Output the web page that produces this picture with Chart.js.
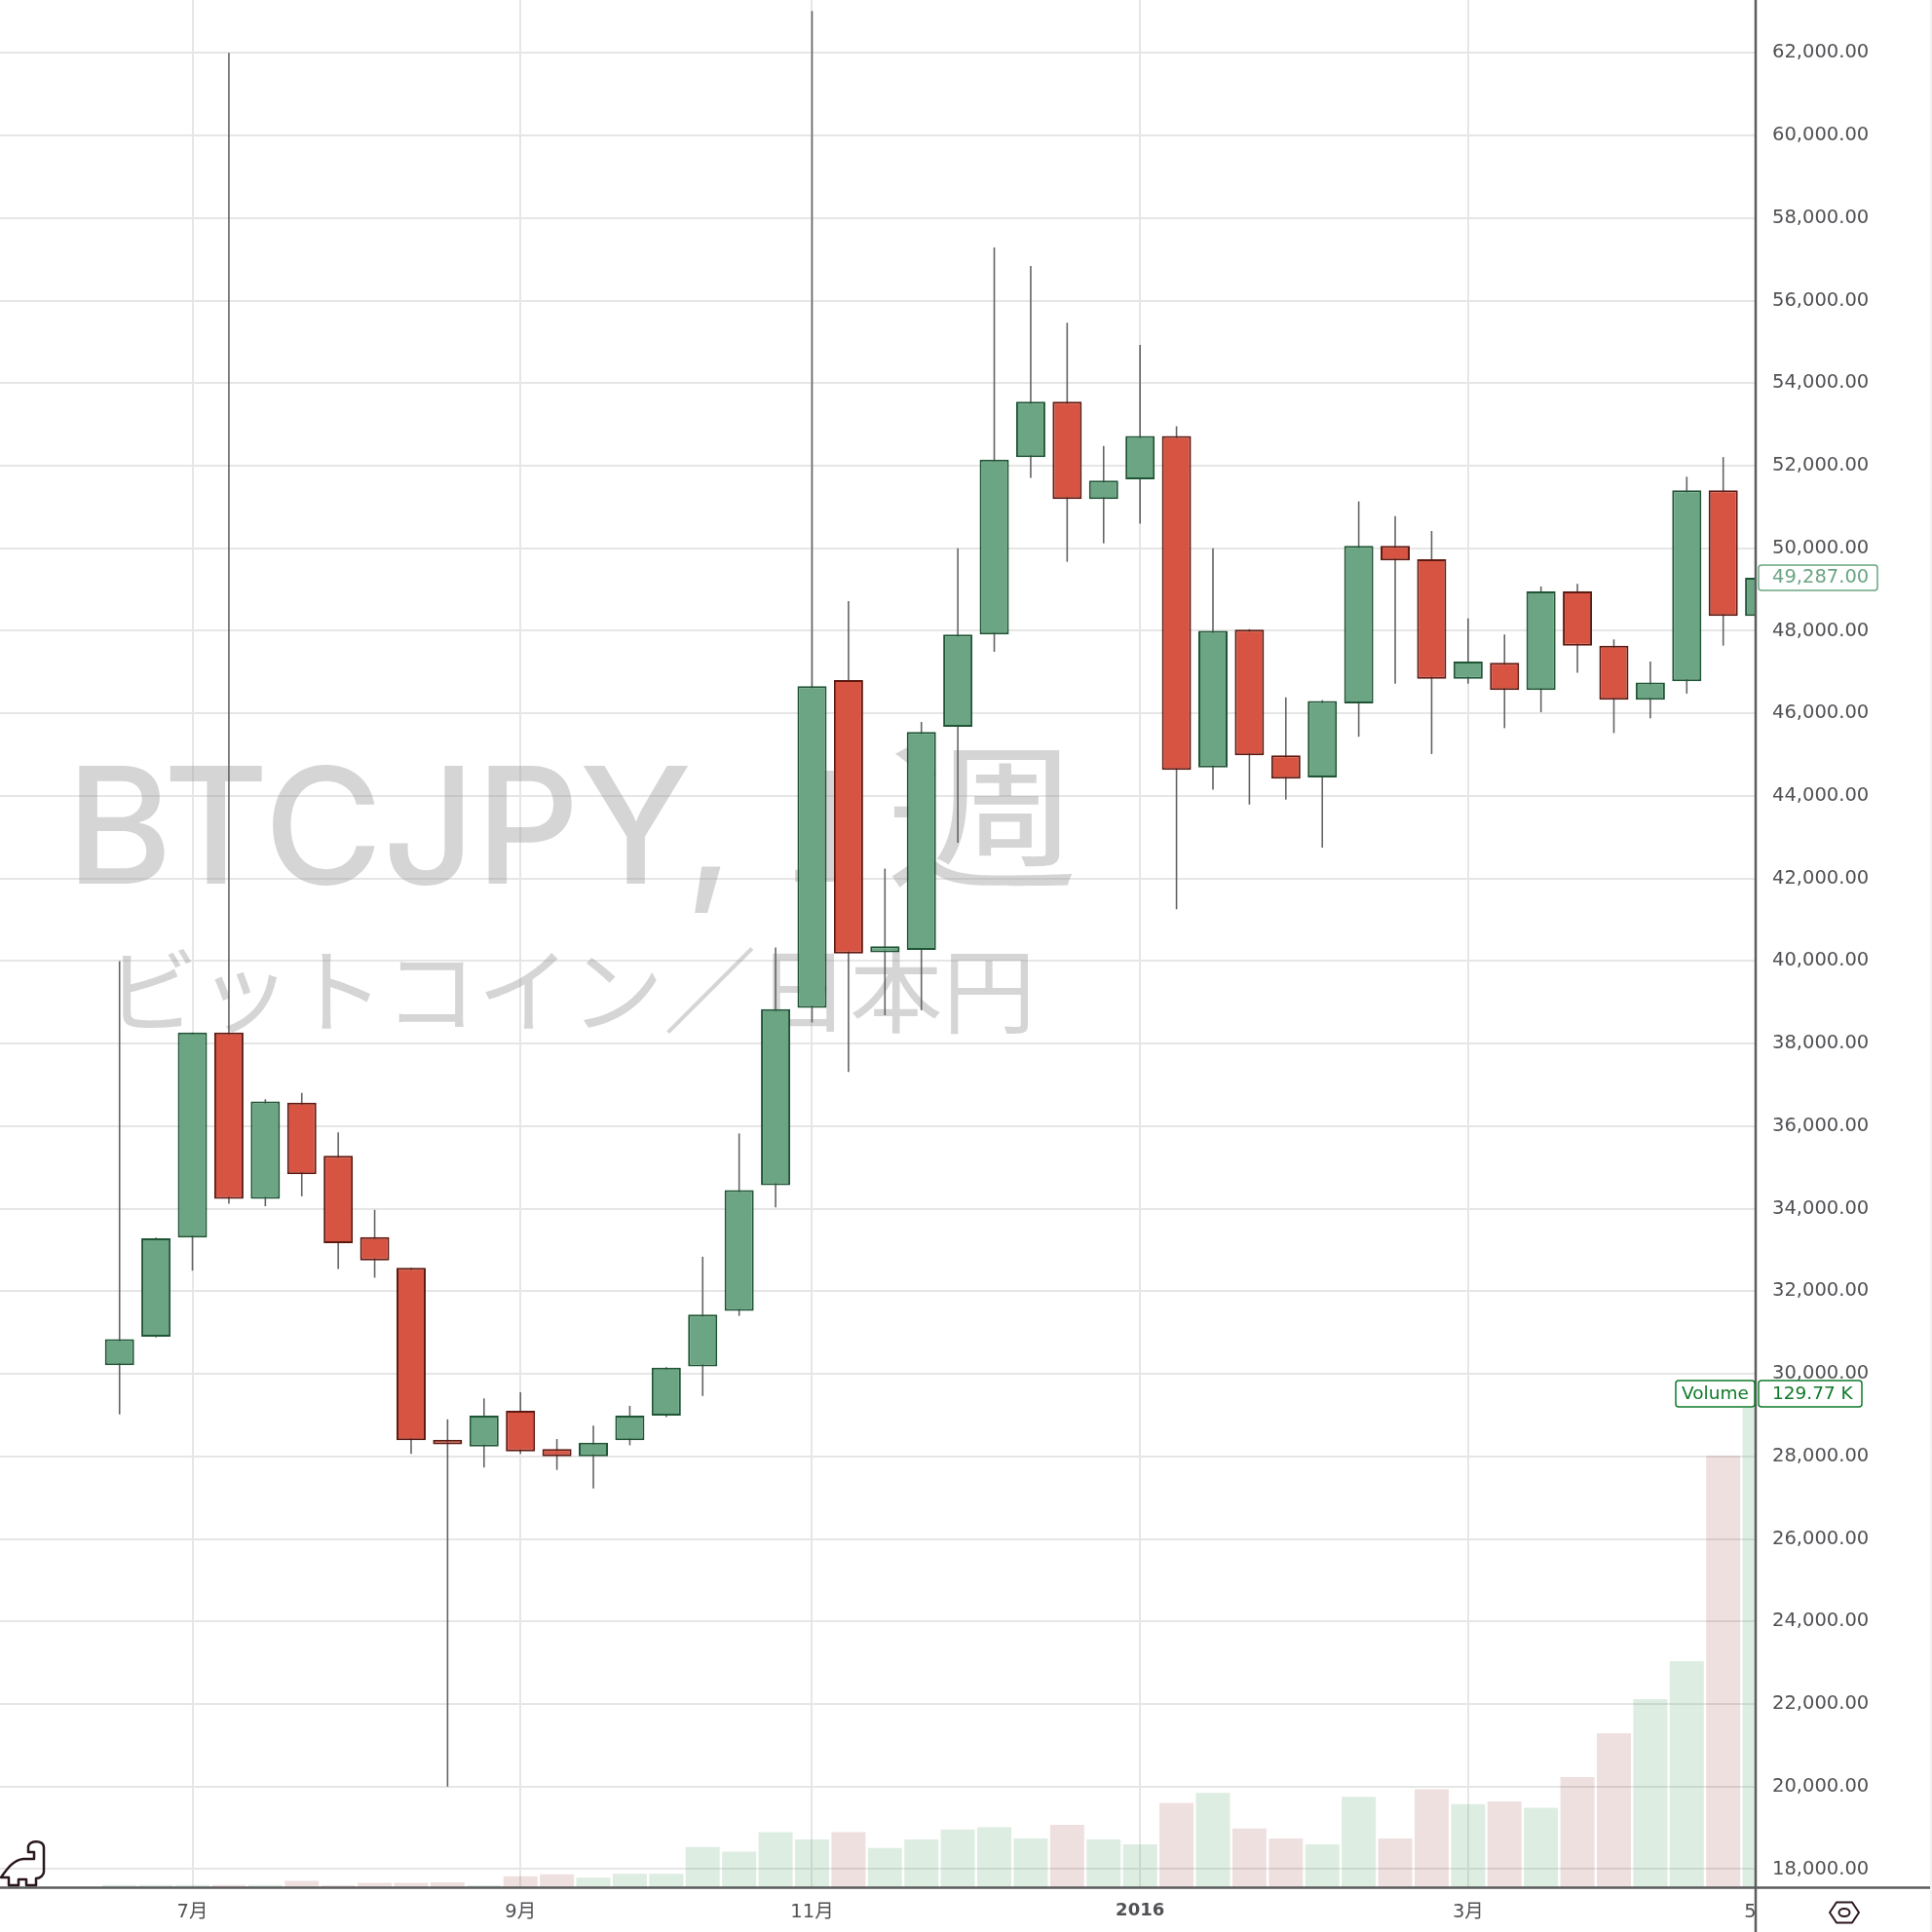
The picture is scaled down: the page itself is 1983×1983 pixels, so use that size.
<!DOCTYPE html>
<html><head><meta charset="utf-8">
<style>html,body{margin:0;padding:0;background:#fff}canvas{display:block}</style>
<script src="https://cdn.jsdelivr.net/npm/chart.js@4"></script>
</head><body><canvas id="c" width="1983" height="1983"></canvas>
<script>
const weekIndex=[0,1,2,3,4,5,6,7,8,9,10,11,12,13,14,15,16,17,18,19,20,21,22,23,24,25,26,27,28,29,30,31,32,33,34,35,36,37,38,39,40,41,42,43,44,45];
const opens=[30210,30900,33300,38270,34240,36570,35284,33310,32568,28400,28240,29105,28180,28000,28389,28986,30180,31523,34568,38866,46806,40210,40270,45672,47911,52209,53552,51194,51672,52717,44687,48030,44985,44448,46239,50060,49732,46836,47224,46568,48956,47642,46329,46777,51403,48359];
const closes=[30840,33284,38270,34240,36600,34836,33165,32747,28389,28290,28986,28120,28000,28329,28986,30150,31434,34448,38836,46657,40180,40359,45553,47911,52150,53552,51194,51642,52717,44627,48000,44985,44418,46299,50060,49702,46836,47254,46568,48956,47642,46329,46747,51403,48359,49287];
const highs=[40000,33300,38270,62000,36650,36807,35851,33971,32570,28896,29404,29553,28419,28747,29225,30160,32837,35822,40329,63015,48717,42239,45791,50000,57284,56836,55463,52478,54925,52955,50000,48040,46388,46320,51135,50776,50418,48299,47911,49075,49135,47791,47254,51732,52209,49300];
const lows=[29016,30880,32500,34120,34060,34299,32538,32329,28061,20000,27732,28061,27672,27225,28269,28950,29463,31404,34031,38508,37314,38687,38807,42866,47493,51702,49672,50120,50597,41254,44150,43791,43911,42747,45433,46717,45015,46717,45642,46030,46985,45523,45881,46478,47642,48300];
const volumesK=[0.6,0.6,0.6,0.6,0.6,1.7,0.5,1.2,1.2,1.3,0.5,3,3.5,2.6,3.6,3.6,10.9,9.6,14.9,12.9,14.9,10.6,12.9,15.6,16.2,13.2,16.9,12.9,11.6,22.8,25.5,15.9,13.2,11.6,24.5,13.2,26.5,22.5,23.2,21.5,29.8,41.7,50.9,61.2,116.9,129.77];
const xTickPositions=[2,11,19,28,37,45];
const xTickLabels=['7月','9月','11月','2016','3月','5月'];
const priceTicks=[18000,20000,22000,24000,26000,28000,30000,32000,34000,36000,38000,40000,42000,44000,46000,48000,50000,52000,54000,56000,58000,60000,62000];
const lastPriceLabel='49,287.00';
const volumeTagName='Volume';
const volumeTagValue='129.77 K';
const watermarkSymbol='BTCJPY,';
const watermarkNumber='1';
const watermarkUnit='週';
const watermarkLine2='ビットコイン／日本円';

const GREEN='#6ba583',GREEN_D='#1f5535',RED='#d75442',RED_D='#5e1a12';
const up=i=>closes[i]>=opens[i];
const FF='"DejaVu Sans","Noto Sans CJK JP",sans-serif';

function roundRect(ctx,x,y,w,h,r){ctx.beginPath();ctx.roundRect(x,y,w,h,r);}
const overlay={
  id:'overlay',
  beforeDatasetsDraw(chart){
    const ctx=chart.ctx,a=chart.chartArea;
    ctx.save();
    ctx.fillStyle='#fff';
    ctx.fillRect(a.right,a.bottom,1983-a.right,46);
    ctx.fillStyle='rgba(150,150,150,0.4)';
    ctx.textBaseline='alphabetic';ctx.textAlign='left';
    ctx.font='500 166px Inter,"DejaVu Sans",sans-serif';
    ctx.fillText(watermarkSymbol,68,907);
    ctx.font='160px "Noto Sans CJK JP",sans-serif';
    ctx.fillText(watermarkNumber,802,905);
    ctx.save();
    ctx.translate(909,899);ctx.scale(1.24,1);
    ctx.fillText(watermarkUnit,0,0);
    ctx.restore();
    ctx.font='95.5px "Noto Sans CJK JP",sans-serif';
    ctx.fillText(watermarkLine2,108,1053);
    ctx.restore();
  },
  afterDraw(chart){
    const ctx=chart.ctx,a=chart.chartArea;
    ctx.save();
    ctx.strokeStyle='#5c5c5e';ctx.lineWidth=2.5;
    ctx.beginPath();ctx.moveTo(a.right,0);ctx.lineTo(a.right,1983);
    ctx.moveTo(0,a.bottom+0.5);ctx.lineTo(1981,a.bottom+0.5);ctx.stroke();
    ctx.strokeStyle='#e4e4e4';ctx.lineWidth=1;
    ctx.beginPath();ctx.moveTo(1982,0);ctx.lineTo(1982,1983);ctx.stroke();
    const py=chart.scales.y.getPixelForValue(closes[closes.length-1]);
    ctx.fillStyle='#fff';ctx.strokeStyle=GREEN;ctx.lineWidth=1.5;
    roundRect(ctx,a.right+3,py-13,122,26,3);ctx.fill();ctx.stroke();
    ctx.fillStyle=GREEN;ctx.font='19.5px '+FF;ctx.textBaseline='middle';ctx.textAlign='left';
    ctx.fillText(lastPriceLabel,a.right+17,py);
    const vy=chart.scales.yVol.getPixelForValue(129.77)-15;
    const G='#0f7a2a';
    ctx.strokeStyle=G;ctx.fillStyle='#fff';
    roundRect(ctx,1720,vy-13,81,27,3);ctx.fill();ctx.stroke();
    roundRect(ctx,a.right+3,vy-13,106,27,3);ctx.fill();ctx.stroke();
    ctx.fillStyle=G;ctx.font='18.5px '+FF;ctx.textAlign='left';
    ctx.fillText(volumeTagName,1726,vy+1);
    ctx.fillText(volumeTagValue,a.right+17,vy+1);
    ctx.strokeStyle='#2a171c';ctx.lineWidth=2.5;ctx.lineJoin='round';
    ctx.beginPath();
    ctx.moveTo(1,1927);ctx.bezierCurveTo(8,1917,14,1909,24,1908);
    ctx.lineTo(35,1908);ctx.lineTo(35,1901);ctx.lineTo(29,1901);ctx.lineTo(29,1895);
    ctx.bezierCurveTo(31,1889,44,1888,45,1896);
    ctx.lineTo(45,1921);ctx.bezierCurveTo(45,1925,41,1928,37,1928);
    ctx.lineTo(37,1935);ctx.lineTo(27,1935);ctx.lineTo(27,1929);ctx.lineTo(19,1929);ctx.lineTo(19,1935);ctx.lineTo(9,1935);ctx.lineTo(9,1927);ctx.closePath();
    ctx.stroke();
    ctx.strokeStyle='#2a171c';ctx.lineWidth=2;
    ctx.beginPath();ctx.moveTo(1878,1963);ctx.lineTo(1885,1952.5);ctx.lineTo(1901,1952.5);ctx.lineTo(1908,1963);ctx.lineTo(1901,1973.5);ctx.lineTo(1885,1973.5);ctx.closePath();ctx.stroke();
    ctx.beginPath();ctx.ellipse(1893,1963,5.5,4,0,0,Math.PI*2);ctx.stroke();
    ctx.restore();
  }
};

new Chart(document.getElementById('c').getContext('2d'),{
  type:'bar',
  plugins:[overlay],
  data:{datasets:[
    {label:'body',order:1,data:weekIndex.map(i=>({x:i,y:[opens[i],closes[i]]})),barThickness:30,grouped:false,
     backgroundColor:weekIndex.map(i=>up(i)?GREEN:RED),borderColor:weekIndex.map(i=>up(i)?GREEN_D:RED_D),borderWidth:2,borderSkipped:false,inflateAmount:0},
    {label:'wick',order:2,data:weekIndex.map(i=>({x:i,y:[lows[i],highs[i]]})),barThickness:1.6,grouped:false,
     backgroundColor:'#646466',borderWidth:0,inflateAmount:0},
    {label:'volume',order:3,yAxisID:'yVol',data:weekIndex.map(i=>({x:i,y:volumesK[i]})),barThickness:35,grouped:false,
     backgroundColor:weekIndex.map(i=>up(i)?'rgba(105,175,125,0.22)':'rgba(150,50,50,0.15)'),borderWidth:0,inflateAmount:0}
  ]},
  options:{
    responsive:false,animation:false,events:[],
    layout:{padding:0,autoPadding:false},
    plugins:{legend:{display:false},tooltip:{enabled:false},title:{display:false}},
    scales:{
      x:{type:'linear',position:'bottom',min:-3.28,max:44.89,offset:false,
        afterBuildTicks(s){s.ticks=xTickPositions.map(v=>({value:v}));},
        afterFit(s){s.height=46;s.paddingLeft=0;s.paddingRight=0;},
        border:{display:false},
        grid:{offset:false,color:c=>c.tick&&c.tick.value>44.89?'rgba(0,0,0,0)':'#e6e6e6',lineWidth:2,drawTicks:false},
        ticks:{autoSkip:false,maxRotation:0,minRotation:0,padding:14,z:0,color:'#505154',
          callback:v=>xTickLabels[xTickPositions.indexOf(v)],
          font:c=>c.tick&&c.tick.value===28?{family:FF,size:18,weight:'bold'}:{family:FF,size:19.5,weight:'normal'}}},
      y:{type:'linear',position:'right',min:17563,max:63282,beginAtZero:false,
        afterBuildTicks(s){s.ticks=priceTicks.map(v=>({value:v}));},
        afterFit(s){s.width=181;s.paddingTop=0;s.paddingBottom=0;},
        border:{display:false},
        grid:{color:'#e6e6e6',lineWidth:2,drawTicks:false},
        ticks:{padding:17,z:1,color:'#505154',
          font:{family:FF,size:19.5},
          callback:v=>v.toLocaleString('en-US',{minimumFractionDigits:2,maximumFractionDigits:2})}},
      yVol:{type:'linear',display:false,position:'right',min:0,max:511}
    }
  }
});
</script></body></html>
